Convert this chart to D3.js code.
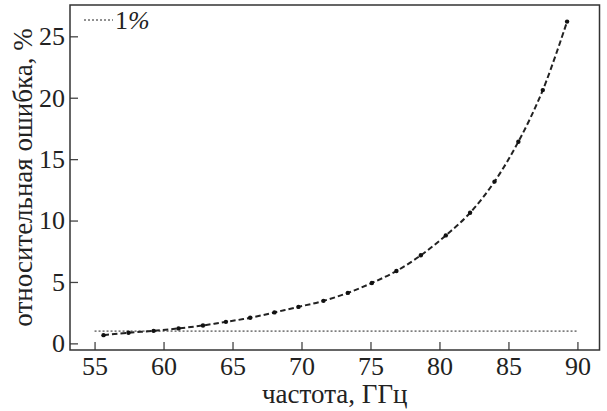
<!DOCTYPE html>
<html>
<head>
<meta charset="utf-8">
<script src="https://cdn.jsdelivr.net/npm/d3@7"></script>
<style>
    body { margin: 0; background: #fff; }
    text { font-family: "Liberation Serif", "Times New Roman", serif; fill: #222; }
</style>
</head>
<body>
<svg id="chart" width="607" height="411"></svg>
<script>
// частота, ГГц
var freq = [55.65, 57.46, 59.28, 61.09, 62.86, 64.52, 66.28, 68.04, 69.78, 71.59,
    73.36, 75.10, 76.88, 78.65, 80.46, 82.22, 83.99, 85.72, 87.49, 89.25];
// относительная ошибка, %
var error = [0.67, 0.86, 1.02, 1.22, 1.46, 1.75, 2.08, 2.52, 2.97, 3.46,
    4.11, 4.92, 5.89, 7.17, 8.79, 10.63, 13.17, 16.42, 20.62, 26.2];
var xTicks = [55, 60, 65, 70, 75, 80, 85, 90];
var yTicks = [0, 5, 10, 15, 20, 25];
var level = 1; // 1% line

var svg = d3.select("#chart");
var margin = {left: 70, right: 7.5, top: 5, bottom: 61};
var width = 607 - margin.left - margin.right,
    height = 411 - margin.top - margin.bottom;
var tickFont = "26px", titleFont = "27px";

var x = d3.scaleLinear().domain([53.22, 91.6]).range([0, width]);
var y = d3.scaleLinear().domain([-0.54, 27.55]).range([height, 0]);

var g = svg.append("g")
    .attr("transform", "translate(" + margin.left + "," + margin.top + ")");

// ticks, inward
var xAxis = d3.axisBottom(x).tickValues(xTicks).tickSize(-8).tickPadding(7);
var yAxis = d3.axisLeft(y).tickValues(yTicks).tickSize(-8).tickPadding(5);

var gx = g.append("g").attr("transform", "translate(0," + height + ")").call(xAxis);
var gy = g.append("g").call(yAxis);
[gx, gy].forEach(function (a) {
    a.attr("font-family", null).attr("font-size", null);
    a.select(".domain").remove();
    a.selectAll("line").attr("stroke", "#444").attr("stroke-width", 1.3);
    a.selectAll("text").style("font-size", tickFont).attr("fill", "#222");
});

// frame
g.append("rect")
    .attr("x", 0).attr("y", 0)
    .attr("width", width).attr("height", height)
    .attr("fill", "none").attr("stroke", "#333").attr("stroke-width", 1.5);

// 1% line
g.append("line")
    .attr("x1", x(55)).attr("x2", x(90))
    .attr("y1", y(level)).attr("y2", y(level))
    .attr("stroke", "#222").attr("stroke-width", 1)
    .attr("stroke-dasharray", "2,2");

var pts = freq.map(function (f, i) { return [f, error[i]]; });

var line = d3.line()
    .x(function (d) { return x(d[0]); })
    .y(function (d) { return y(d[1]); })
    .curve(d3.curveCatmullRom);

g.append("path")
    .attr("d", line(pts))
    .attr("fill", "none")
    .attr("stroke", "#222")
    .attr("stroke-width", 2)
    .attr("stroke-dasharray", "5.5,3");

g.selectAll("circle.pt")
    .data(pts)
    .enter()
    .append("circle")
    .attr("class", "pt")
    .attr("cx", function (d) { return x(d[0]); })
    .attr("cy", function (d) { return y(d[1]); })
    .attr("r", 2.2)
    .attr("fill", "#111");

// legend
g.append("line")
    .attr("x1", 14).attr("x2", 43)
    .attr("y1", 15).attr("y2", 15)
    .attr("stroke", "#222").attr("stroke-width", 1)
    .attr("stroke-dasharray", "2,2");
var leg = g.append("text")
    .attr("x", 45).attr("y", 24)
    .style("font-size", tickFont);
leg.append("tspan").text("1");
leg.append("tspan").style("font-style", "italic").text("%");

// axis titles
svg.append("text")
    .attr("x", margin.left + width / 2)
    .attr("y", 403)
    .attr("text-anchor", "middle")
    .style("font-size", titleFont)
    .text("частота, ГГц");

svg.append("text")
    .attr("transform", "translate(32," + (margin.top + height / 2) + ") rotate(-90)")
    .attr("text-anchor", "middle")
    .style("font-size", titleFont)
    .text("относительная ошибка, %");
</script>
</body>
</html>
